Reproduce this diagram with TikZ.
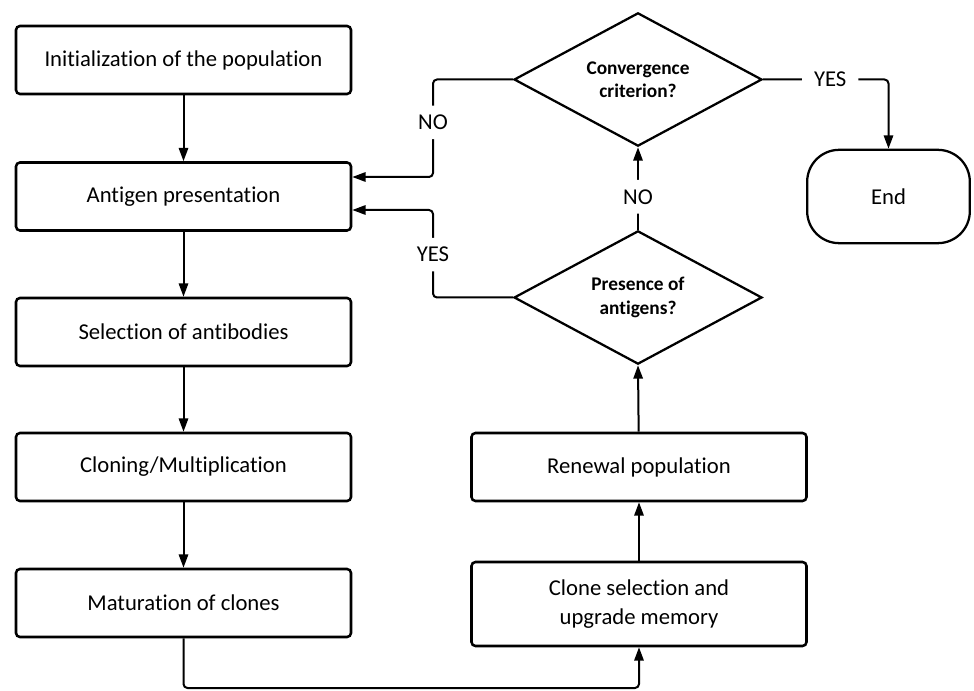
\documentclass[tikz,border=0pt]{standalone}
\usepackage{fontspec}
\setmainfont{Carlito}[Ligatures=NoCommon]
\usetikzlibrary{shapes.geometric,arrows.meta}
\begin{document}
\begin{tikzpicture}[x=0.75pt,y=-0.75pt,
  every node/.style={font=\fontsize{17pt}{21.75pt}\selectfont},
  procbox/.style={draw,line width=1.9pt,rounded corners=3pt,minimum width=251.25pt,minimum height=51pt,align=center,inner sep=0pt},
  decis/.style={draw,line width=1.7pt,diamond,aspect=1.86,minimum width=186pt,minimum height=100pt,inner sep=0pt,align=center,font=\fontsize{14.5pt}{17.5pt}\selectfont\bfseries},
  term/.style={draw,line width=1.7pt,rounded corners=24pt,minimum width=122pt,minimum height=70pt,inner sep=0pt},
  conn/.style={line width=1.5pt,rounded corners=3pt},
  arr/.style={conn,-{Triangle[length=10pt,width=7pt]}},
  lblv/.style={fill=white,inner xsep=2pt,inner ysep=7pt},
  lblh/.style={fill=white,inner xsep=9pt,inner ysep=2pt}]
\useasboundingbox (0,0) rectangle (974,691);
\node[procbox] (init) at (183.5,60) {Initialization of the population};
\node[procbox] (anti) at (183.5,196.5) {Antigen presentation};
\node[procbox] (sel) at (183.5,332) {Selection of antibodies};
\node[procbox] (clon) at (183.5,467) {Cloning/Multiplication};
\node[procbox] (mat) at (183.5,603) {Maturation of clones};
\node[procbox] (ren) at (639,467) {Renewal population};
\node[procbox,minimum height=63pt] (csel) at (639,604) {Clone selection and\\upgrade memory};
\node[decis] (conv) at (638,79.5) {Convergence\\criterion?};
\node[decis] (pres) at (638,297.5) {Presence of\\antigens?};
\node[term] (end) at (888.5,196.5) {End};
\coordinate (n1) at (433,79.5);
\coordinate (n2) at (433,177);
\coordinate (y1) at (433,297.5);
\coordinate (y2) at (433,210);
\coordinate (e1) at (888.5,79.5);
\coordinate (b1) at (183.5,688);
\coordinate (b2) at (639,688);
\draw[arr] (init) -- (anti);
\draw[arr] (anti) -- (sel);
\draw[arr] (sel) -- (clon);
\draw[arr] (clon) -- (mat);
\draw[arr] (mat.south) -- (b1) -- (b2) -- (csel.south);
\draw[arr] (csel) -- (ren);
\draw[arr] (ren) -- (pres.south);
\draw[arr] (pres.north) -- node[lblv,pos=0.4]{NO} (conv.south);
\draw[arr] (conv.west) -- (n1) -- node[lblv,pos=0.44]{NO} (n2) -- (n2 -| anti.east);
\draw[arr] (pres.west) -- (y1) -- node[lblv,pos=0.49]{YES} (y2) -- (y2 -| anti.east);
\draw[arr] (conv.east) -- node[lblh,pos=0.535]{YES} (e1) -- (end.north);
\end{tikzpicture}
\end{document}
